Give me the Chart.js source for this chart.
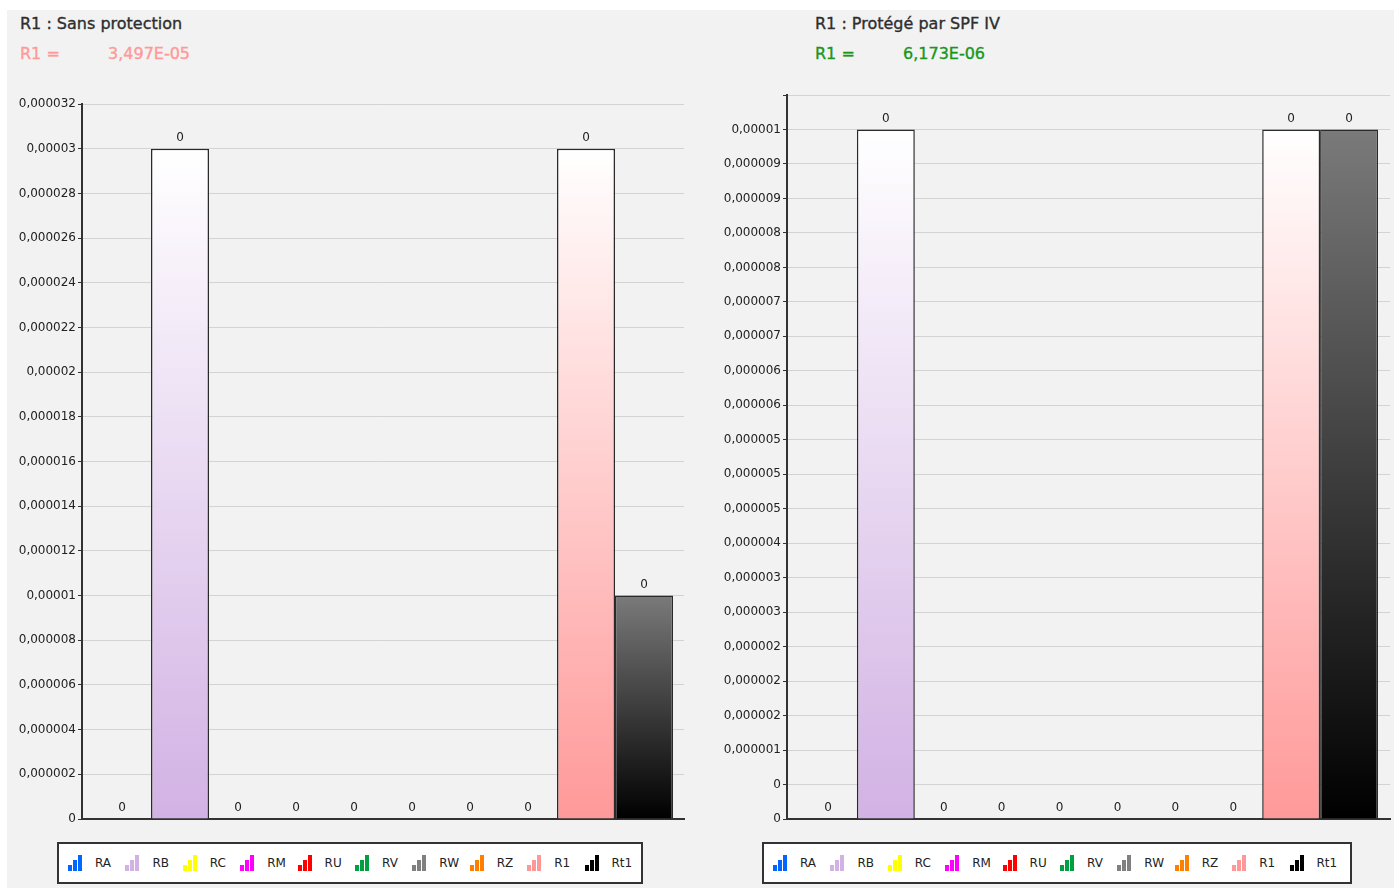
<!DOCTYPE html>
<html>
<head>
<meta charset="utf-8">
<script src="https://cdn.jsdelivr.net/npm/chart.js@4.4.1/dist/chart.umd.min.js"></script>
<style>
  body { margin: 0; background: #fff; font-family: "DejaVu Sans", sans-serif; }
  #fond { position: absolute; left: 7px; top: 10px; width: 1387px; height: 878px; background: #f2f2f2; }
  .ligne { position: absolute; font-size: 16px; line-height: 20px; white-space: nowrap; -webkit-text-stroke: 0.35px; }
  .titre { color: #2e2e2e; }
  canvas { position: absolute; top: 0; }
  .legende { position: absolute; top: 842px; height: 42px; background: #fff; border: 2px solid #333;
             box-sizing: border-box; display: flex; align-items: center; padding-left: 9px; }
  .item { width: 57.4px; display: flex; align-items: center; flex: none; }
  .icone { width: 14px; height: 16px; display: flex; align-items: flex-end; gap: 1px; }
  .icone span { width: 4px; display: block; }
  .item b { font-weight: normal; font-size: 12px; color: #222; margin-left: 13px; }
</style>
</head>
<body>
<div id="fond"></div>

<div class="ligne titre" style="left:20px; top:14px">R1 : Sans protection</div>
<div class="ligne" style="left:20px; top:44px; color:#ff9999">R1 =</div>
<div class="ligne" style="left:108px; top:44px; color:#ff9999">3,497E-05</div>
<canvas id="graphSans" width="700" height="840" style="left:0"></canvas>
<div class="legende" id="legendeSans" style="left:57px; width:586px"></div>

<div class="ligne titre" style="left:815px; top:14px">R1 : Protégé par SPF IV</div>
<div class="ligne" style="left:815px; top:44px; color:#1a961a">R1 =</div>
<div class="ligne" style="left:903px; top:44px; color:#1a961a">6,173E-06</div>
<canvas id="graphSpf" width="694" height="840" style="left:700px"></canvas>
<div class="legende" id="legendeSpf" style="left:762px; width:590px"></div>

<script>
// Composantes de risque
const composantes = ['RA', 'RB', 'RC', 'RM', 'RU', 'RV', 'RW', 'RZ', 'R1', 'Rt1'];
const valeursSans = [0, 0.00003, 0, 0, 0, 0, 0, 0, 0.00003, 0.00001];
const valeursSpf = [0, 0.00001, 0, 0, 0, 0, 0, 0, 0.00001, 0.00001];

// Couleurs de la légende et des dégradés (haut -> bas)
const couleurs = ['#0066ff', '#d2b2e4', '#ffff00', '#ff00ff', '#ff0000', '#00a040', '#808080', '#ff7f00', '#ff9999', '#000000'];
const hautsDegrade = ['#ffffff', '#ffffff', '#ffffff', '#ffffff', '#ffffff', '#ffffff', '#ffffff', '#ffffff', '#ffffff', '#7a7a7a'];

// Libellés de l'axe Y
const ticksSans = ['0', '0,000002', '0,000004', '0,000006', '0,000008', '0,00001', '0,000012', '0,000014',
  '0,000016', '0,000018', '0,00002', '0,000022', '0,000024', '0,000026', '0,000028', '0,00003', '0,000032'];
const ticksSpf = ['0', '0', '0,000001', '0,000002', '0,000002', '0,000002', '0,000003', '0,000003', '0,000004',
  '0,000005', '0,000005', '0,000005', '0,000006', '0,000006', '0,000007', '0,000007', '0,000008', '0,000008',
  '0,000009', '0,000009', '0,00001', ''];

// dégradé vertical calculé sur la hauteur de chaque barre
function degrade(haut, bas) {
    return function(ctx) {
        const chart = ctx.chart;
        const y = chart.scales.y;
        if (!y || !ctx.parsed) return bas;
        const top = y.getPixelForValue(ctx.parsed.y);
        const base = y.getPixelForValue(0);
        if (!isFinite(top) || !isFinite(base) || base - top < 1) return bas;
        const g = chart.ctx.createLinearGradient(0, top, 0, base);
        g.addColorStop(0, haut);
        g.addColorStop(1, bas);
        return g;
    };
}

// "0" au-dessus de chaque barre
const etiquettes = {
    id: 'etiquettes',
    afterDatasetsDraw(chart) {
        const c = chart.ctx;
        c.save();
        c.font = '12px "DejaVu Sans"';
        c.fillStyle = '#222';
        c.textAlign = 'center';
        c.textBaseline = 'bottom';
        chart.data.datasets.forEach((ds, i) => {
            chart.getDatasetMeta(i).data.forEach((bar, j) => {
                c.fillText(ds.data[j].toFixed(0), bar.x, bar.y - 5);
            });
        });
        c.restore();
    }
};

function creerGraph(id, valeurs, ticks, max, pas, largeurAxe, padding, pctCategorie) {
    return new Chart(document.getElementById(id), {
        type: 'bar',
        data: {
            labels: [''],
            datasets: composantes.map((nom, i) => ({
                label: nom,
                data: [valeurs[i]],
                backgroundColor: degrade(hautsDegrade[i], couleurs[i]),
                borderColor: '#2a2a2a',
                borderWidth: 1.5,
                barPercentage: 1,
                categoryPercentage: pctCategorie
            }))
        },
        options: {
            responsive: false,
            animation: false,
            devicePixelRatio: 1,
            layout: { padding: padding },
            plugins: { legend: { display: false }, tooltip: { enabled: false } },
            scales: {
                x: {
                    grid: { display: false },
                    ticks: { display: false },
                    border: { display: true, color: '#333', width: 2 },
                    afterFit(scale) { scale.height = 0; }
                },
                y: {
                    min: 0,
                    max: max,
                    ticks: {
                        stepSize: pas,
                        autoSkip: false,
                        padding: 2,
                        color: '#222',
                        font: { family: 'DejaVu Sans', size: 12 },
                        callback: (v, i) => ticks[i]
                    },
                    grid: { color: '#d3d3d3', lineWidth: 1, tickColor: '#333', tickLength: 4 },
                    border: { display: true, color: '#333', width: 2 },
                    afterFit(scale) { scale.width = largeurAxe; }
                }
            }
        },
        plugins: [etiquettes]
    });
}

creerGraph('graphSans', valeursSans, ticksSans, 0.000032, 0.000002, 82,
    { top: 104, right: 16, bottom: 21, left: 0 }, 580 / 602);
creerGraph('graphSpf', valeursSpf, ticksSpf, 0.0000105, 0.0000005, 87,
    { top: 95, right: 4, bottom: 21, left: 0 }, 579 / 603);

// Légendes avec petites icônes en barres
function creerLegende(id) {
    const boite = document.getElementById(id);
    composantes.forEach((nom, i) => {
        const item = document.createElement('div');
        item.className = 'item';
        const icone = document.createElement('div');
        icone.className = 'icone';
        [6, 11, 16].forEach(h => {
            const s = document.createElement('span');
            s.style.height = h + 'px';
            s.style.background = couleurs[i];
            icone.appendChild(s);
        });
        const txt = document.createElement('b');
        txt.textContent = nom;
        item.appendChild(icone);
        item.appendChild(txt);
        boite.appendChild(item);
    });
}
creerLegende('legendeSans');
creerLegende('legendeSpf');
</script>
</body>
</html>
